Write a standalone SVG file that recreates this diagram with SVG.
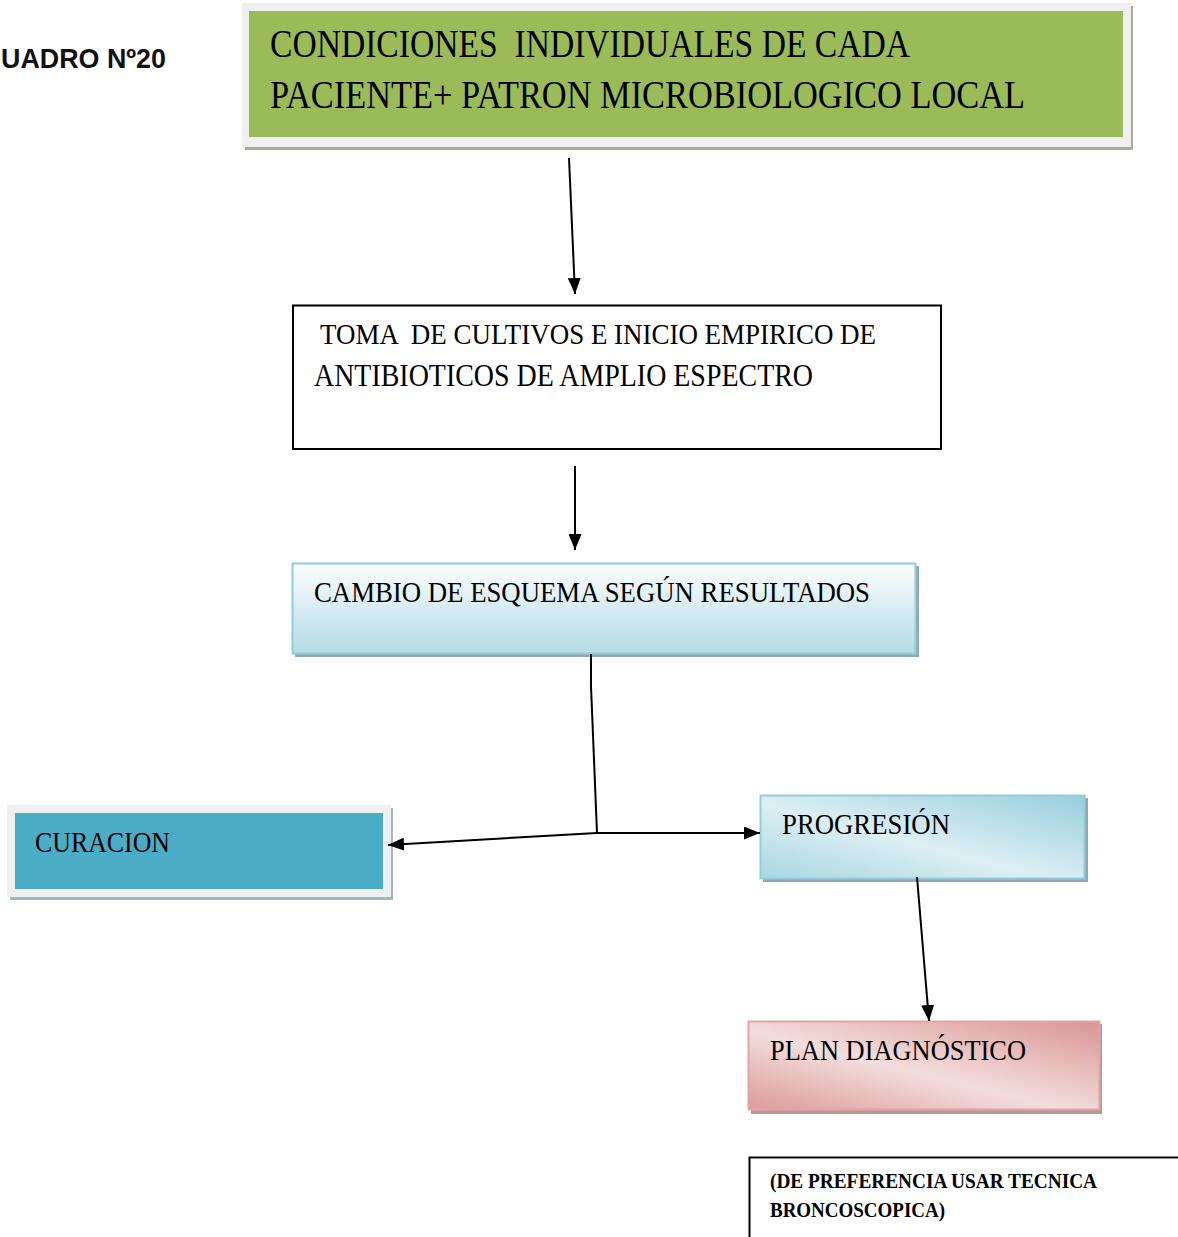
<svg xmlns="http://www.w3.org/2000/svg" width="1178" height="1237" viewBox="0 0 1178 1237">
<style>
.t{font-family:"Liberation Serif","DejaVu Serif",serif;fill:#000;white-space:pre}
.line{stroke:#000;stroke-width:2;fill:none}
</style>
<defs>
<marker id="ah" viewBox="0 0 16 13" refX="16" refY="6.5" markerWidth="16" markerHeight="13" markerUnits="userSpaceOnUse" orient="auto">
<path d="M0,0 L16,6.5 L0,13 z" fill="#000"/>
</marker>
<linearGradient id="gBlue" x1="0" y1="0" x2="0" y2="1">
<stop offset="0" stop-color="#fdfeff"/>
<stop offset="0.55" stop-color="#d3eaf1"/>
<stop offset="1" stop-color="#b5dce6"/>
</linearGradient>
<linearGradient id="gBlue2" x1="0" y1="1" x2="1" y2="0">
<stop offset="0" stop-color="#a9d6e2"/>
<stop offset="0.45" stop-color="#ddeff4"/>
<stop offset="1" stop-color="#98cedd"/>
</linearGradient>
<linearGradient id="gPink" x1="0" y1="1" x2="1" y2="0">
<stop offset="0" stop-color="#dc9a99"/>
<stop offset="0.45" stop-color="#f3dedd"/>
<stop offset="1" stop-color="#d99594"/>
</linearGradient>
</defs>

<g id="label-cuadro">
<text x="1" y="68" font-family="Liberation Sans, Arial, sans-serif" font-weight="bold" font-size="28" textLength="165" lengthAdjust="spacingAndGlyphs" fill="#111">UADRO Nº20</text>
</g>

<g id="node-condiciones">
<rect x="245" y="6" width="888" height="144" fill="#a8ad94"/>
<rect x="242" y="3" width="889" height="144" fill="#f0f0f0"/>
<rect x="249" y="11" width="874" height="126" fill="#9bbb59"/>
<text class="t" x="270" y="57" font-size="41" textLength="640" lengthAdjust="spacingAndGlyphs">CONDICIONES  INDIVIDUALES DE CADA</text>
<text class="t" x="270" y="108" font-size="41" textLength="755" lengthAdjust="spacingAndGlyphs">PACIENTE+ PATRON MICROBIOLOGICO LOCAL</text>
</g>

<g id="node-toma">
<rect x="293" y="305.5" width="648" height="143.5" fill="#fff" stroke="#000" stroke-width="2"/>
<text class="t" x="320" y="344" font-size="30" textLength="556" lengthAdjust="spacingAndGlyphs">TOMA  DE CULTIVOS E INICIO EMPIRICO DE</text>
<text class="t" x="314" y="386" font-size="32" textLength="499" lengthAdjust="spacingAndGlyphs">ANTIBIOTICOS DE AMPLIO ESPECTRO</text>
</g>

<g id="node-cambio">
<rect x="295" y="566" width="624" height="91" fill="#8fa9b0"/>
<rect x="292.5" y="563.5" width="623" height="90" fill="url(#gBlue)" stroke="#93cddc" stroke-width="2"/>
<text class="t" x="314" y="602" font-size="30" textLength="556" lengthAdjust="spacingAndGlyphs">CAMBIO DE ESQUEMA SEGÚN RESULTADOS</text>
</g>

<g id="node-curacion">
<rect x="10" y="808" width="383" height="92" fill="#9fb8bf"/>
<rect x="7" y="805" width="384" height="92" fill="#f0f0f0"/>
<rect x="15" y="813" width="368" height="76" fill="#4bacc6"/>
<text class="t" x="35" y="852" font-size="29" textLength="135" lengthAdjust="spacingAndGlyphs">CURACION</text>
</g>

<g id="node-progresion">
<rect x="763" y="798" width="325" height="84" fill="#8fa9b0"/>
<rect x="760.5" y="795.5" width="324" height="83" fill="url(#gBlue2)" stroke="#93cddc" stroke-width="2"/>
<text class="t" x="782" y="834" font-size="29" textLength="168" lengthAdjust="spacingAndGlyphs">PROGRESIÓN</text>
</g>

<g id="node-plan">
<rect x="751" y="1024" width="351" height="90" fill="#b89796"/>
<rect x="748.5" y="1021.5" width="351" height="88" fill="url(#gPink)" stroke="#e0a5a4" stroke-width="2"/>
<text class="t" x="770" y="1060" font-size="30" textLength="256" lengthAdjust="spacingAndGlyphs">PLAN DIAGNÓSTICO</text>
</g>

<g id="node-nota">
<path d="M749.5,1237 L749.5,1157.5 L1178,1157.5" fill="#fff" stroke="#000" stroke-width="2"/>
<text class="t" x="770" y="1188" font-size="20" font-weight="bold" textLength="327" lengthAdjust="spacingAndGlyphs">(DE PREFERENCIA USAR TECNICA</text>
<text class="t" x="770" y="1217" font-size="20" font-weight="bold" textLength="175" lengthAdjust="spacingAndGlyphs">BRONCOSCOPICA)</text>
</g>

<g id="connectors">
<line class="line" x1="569" y1="158" x2="575" y2="294" marker-end="url(#ah)"/>
<line class="line" x1="575" y1="466" x2="575" y2="550" marker-end="url(#ah)"/>
<polyline class="line" points="591,654 591,686 597,833"/>
<line class="line" x1="597" y1="833" x2="760" y2="833" marker-end="url(#ah)"/>
<line class="line" x1="597" y1="833" x2="388" y2="845" marker-end="url(#ah)"/>
<line class="line" x1="917" y1="877" x2="929" y2="1021" marker-end="url(#ah)"/>
</g>
</svg>
